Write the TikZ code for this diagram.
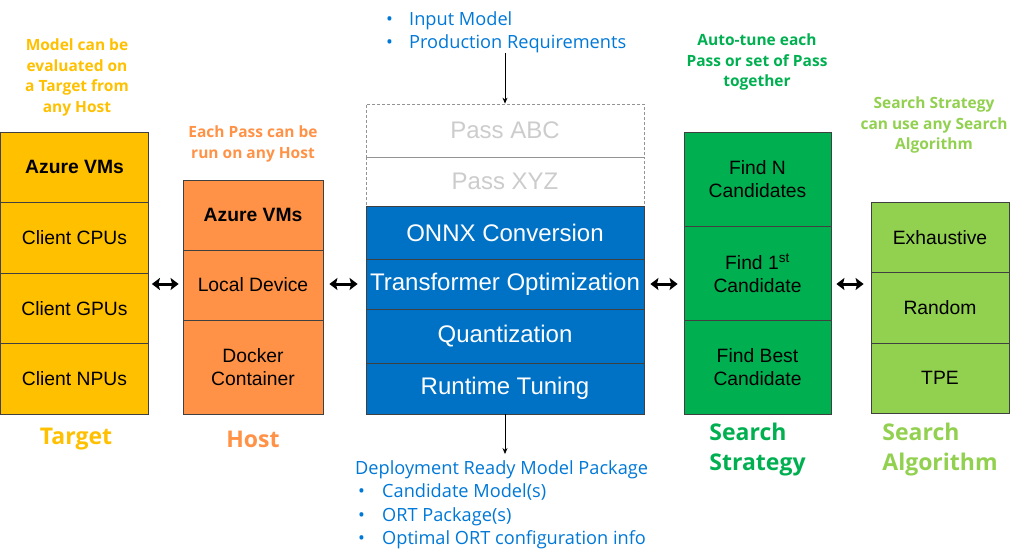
\documentclass[tikz,border=0pt]{standalone}
\usepackage{fontspec}
\setmainfont{Liberation Sans}
\newfontfamily\notefont{Open Sans}
\usepackage{tikz}
\usetikzlibrary{positioning,arrows.meta,calc}
\definecolor{tgtc}{RGB}{255,192,0}
\definecolor{hstc}{RGB}{255,146,70}
\definecolor{optc}{RGB}{0,114,198}
\definecolor{srsc}{RGB}{0,176,80}
\definecolor{algc}{RGB}{146,208,80}
\definecolor{lstc}{RGB}{0,120,215}
\tikzset{
  cell/.style={draw=black!75, line width=0.8pt, inner sep=0pt, align=center,
               font=\fontsize{19.3}{22.5}\selectfont},
  tgt/.style={cell, fill=tgtc, minimum width=148pt, minimum height=70.5pt},
  hst/.style={cell, fill=hstc, minimum width=140pt, minimum height=70pt},
  pas/.style={cell, draw=gray!85, dash pattern=on 3pt off 2pt, text=gray!40,
              minimum width=278pt, font=\fontsize{24}{28}\selectfont},
  opt/.style={cell, fill=optc, text=white, minimum width=278pt,
              font=\fontsize{24}{28}\selectfont},
  srs/.style={cell, fill=srsc, minimum width=147pt, minimum height=94pt},
  alg/.style={cell, fill=algc, minimum width=138pt, minimum height=70.5pt},
  note/.style={font=\notefont\bfseries\fontsize{15.5}{20.5}\selectfont, align=center},
  coltitle/.style={font=\notefont\bfseries\fontsize{23}{30}\selectfont, align=left, inner sep=0pt},
  lst/.style={font=\notefont\fontsize{18.2}{23.5}\selectfont, text=lstc, align=left,
              inner sep=0pt},
  swap/.style={line width=3pt,
               {Stealth[length=8pt,width=12pt,inset=1.5pt]}-{Stealth[length=8pt,width=12pt,inset=1.5pt]}},
  flow/.style={line width=0.7pt, -{Stealth[length=6pt,width=5pt]}},
}
\newcommand{\bul}[1]{\makebox[#1][l]{\textbullet}}

\begin{document}
\begin{tikzpicture}[x=1pt, y=-1pt]
  \useasboundingbox (0,0) rectangle (1024,559);
  \node[tgt] (tg1) at (74.5,167.25) {\textbf{Azure VMs}};
  \node[tgt] (tg2) at (74.5,237.75) {Client CPUs};
  \node[tgt] (tg3) at (74.5,308.25) {Client GPUs};
  \node[tgt] (tg4) at (74.5,378.75) {Client NPUs};
  \node[hst] (hs1) at (253,215) {\textbf{Azure VMs}};
  \node[hst] (hs2) at (253,285) {Local Device};
  \node[hst, minimum height=94pt] (hs3) at (253,367) {Docker\\Container};
  \node[pas, minimum height=53pt] (ab) at (505,130.5) {Pass ABC};
  \node[pas, minimum height=49pt] (xy) at (505,181.5) {Pass XYZ};
  \node[opt, minimum height=53pt] (oc) at (505,232.5) {ONNX Conversion};
  \node[opt, minimum height=50pt] (to) at (505,284) {Transformer Optimization};
  \node[opt, minimum height=54pt] (qu) at (505,336) {Quantization};
  \node[opt, minimum height=51pt] (rt) at (505,388.5) {Runtime Tuning};
  \node[srs] (sr1) at (757.5,179) {Find N\\Candidates};
  \node[srs] (sr2) at (757.5,273) {Find 1\textsuperscript{st}\\Candidate};
  \node[srs] (sr3) at (757.5,367) {Find Best\\Candidate};
  \node[alg] (al1) at (940,237.25) {Exhaustive};
  \node[alg] (al2) at (940,307.75) {Random};
  \node[alg] (al3) at (940,378.25) {TPE};
  \node[note, text=tgtc] (tgnote) at (77,77.5) {Model can be\\evaluated on\\a Target from\\any Host};
  \node[note, text=hstc] (hsnote) at (253,144) {Each Pass can be\\run on any Host};
  \node[note, text=srsc] (srnote) at (757,62) {Auto-tune each\\Pass or set of Pass\\together};
  \node[note, text=algc] (alnote) at (934,125) {Search Strategy\\can use any Search\\Algorithm};
  \node[coltitle, text=tgtc] (tgcap) at (76,439) {Target};
  \node[coltitle, text=hstc] (hscap) at (253,439) {Host};
  \node[coltitle, text=srsc] (srcap) at (757.5,450) {Search\\Strategy};
  \node[coltitle, text=algc] (alcap) at (940,450) {Search\\Algorithm};
  \node[lst, anchor=north west] (inp) at (386,11)
    {\bul{23pt}Input Model\\\bul{23pt}Production Requirements};
  \node[lst, anchor=north west] (dep) at (355,460)
    {Deployment Ready Model Package\\
     \hspace*{3pt}\bul{24pt}Candidate Model(s)\\
     \hspace*{3pt}\bul{24pt}ORT Package(s)\\
     \hspace*{3pt}\bul{24pt}Optimal ORT configuration info};
  \draw[flow] (ab.north |- inp.south) -- (ab.north);
  \draw[flow, shorten >=6pt] (rt.south) -- (rt.south |- dep.north);
  \draw[swap, shorten <=3pt, shorten >=4pt] (tg2.east |- to.west) -- (hs2.west |- to.west);
  \draw[swap, shorten <=6pt, shorten >=8pt] (hs2.east |- to.west) -- (to.west);
  \draw[swap, shorten <=6pt, shorten >=6pt] (to.east) -- (sr2.west |- to.east);
  \draw[swap, shorten <=5pt, shorten >=7pt] (sr2.east |- to.east) -- (al2.west |- to.east);
\end{tikzpicture}
\end{document}
